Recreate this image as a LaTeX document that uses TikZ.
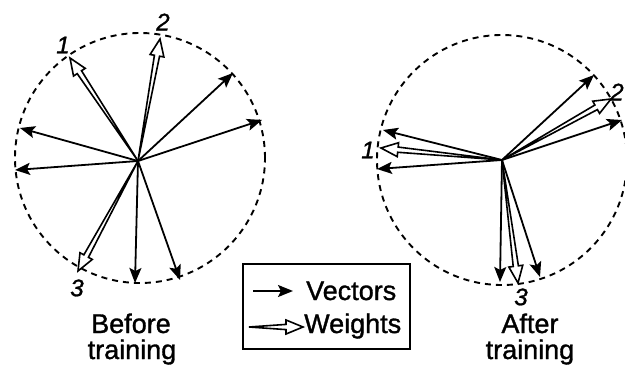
\documentclass[tikz,border=0pt]{standalone}
\usepackage{fontspec}
\setmainfont{Liberation Sans}[FakeBold=1.2]
\usetikzlibrary{calc,arrows.meta}
\tikzset{
  ring/.style={circle, draw, line width=1.9pt, dash pattern=on 6pt off 5pt, minimum size=250pt, inner sep=0pt},
  vec/.style={line width=1.8pt, -{Stealth[length=15pt,width=12pt,inset=3pt]}},
  wt/.style={line width=1.6pt, fill=white, line join=miter},
  lbl/.style={font=\fontsize{24}{26}\selectfont\itshape, inner sep=0pt},
  captxt/.style={font=\fontsize{27}{30}\selectfont, inner sep=0pt, anchor=base},
}
\newcommand{\wtarrow}[3]{%
  \coordinate (#1b) at ($(#3)!17pt!(#2)$);
  \draw[wt] (#2) -- ($(#1b)!2.6pt!90:(#3)$) -- ($(#1b)!7pt!90:(#3)$) -- (#3)
    -- ($(#1b)!7pt!-90:(#3)$) -- ($(#1b)!2.6pt!-90:(#3)$) -- cycle;}
\begin{document}
\begin{tikzpicture}[x=1pt,y=-1pt]
\clip (0,0) rectangle (625,367);
% ---------- before training ----------
\node[ring] (cL) at (140,158) {};
\coordinate (hL) at (138,161);
\coordinate (L1) at (233,73);
\coordinate (L2) at (262,120);
\coordinate (L3) at (20,128);
\coordinate (L4) at (15,170);
\coordinate (L5) at (135,283);
\coordinate (L6) at (180,280);
\coordinate (LW1) at (70,58);
\coordinate (LW2) at (160,39);
\coordinate (LW3) at (78,271);
\foreach \t in {L1,L2,L3,L4,L5,L6} \draw[vec] (hL) -- (\t);
\wtarrow{lw1}{hL}{LW1}
\wtarrow{lw2}{hL}{LW2}
\wtarrow{lw3}{hL}{LW3}
\node[lbl] (ln1) at (63,45) {1};
\node[lbl] (ln2) at (163,22) {2};
\node[lbl] (ln3) at (77,288) {3};
\node[captxt] (before) at (131,333) {Before};
\node[captxt] (trainL) at (132,359) {training};
% ---------- after training ----------
\node[ring] (cR) at (502,160) {};
\coordinate (hR) at (502,160);
\coordinate (R1) at (594,75);
\coordinate (R2) at (622,120);
\coordinate (R3) at (383,130);
\coordinate (R4) at (377,169);
\coordinate (R5) at (500,282);
\coordinate (R6) at (540,277);
\coordinate (RW1) at (381,148);
\coordinate (RW2) at (611,99);
\coordinate (RW3) at (518,283);
\foreach \t in {R1,R2,R3,R4,R5,R6} \draw[vec] (hR) -- (\t);
\wtarrow{rw1}{hR}{RW1}
\wtarrow{rw2}{hR}{RW2}
\wtarrow{rw3}{hR}{RW3}
\node[lbl] (rn1) at (368,150) {1};
\node[lbl] (rn2) at (617,92) {2};
\node[lbl] (rn3) at (521,297) {3};
\node[captxt] (after) at (530,333) {After};
\node[captxt] (trainR) at (530,359) {training};
% ---------- legend ----------
\node[draw, line width=1.7pt, minimum width=167pt, minimum height=85pt, inner sep=0pt] (key) at (326.5,306.5) {};
\coordinate (kv0) at (253,291);
\coordinate (kv1) at (293,291);
\coordinate (kw0) at (249,327);
\coordinate (kw1) at (303,327);
\draw[vec] (kv0) -- (kv1);
\wtarrow{kw}{kw0}{kw1}
\node[captxt, anchor=base west] (kvt) at (306,300) {Vectors};
\node[captxt, anchor=base west] (kwt) at (304,333) {Weights};
\end{tikzpicture}
\end{document}
